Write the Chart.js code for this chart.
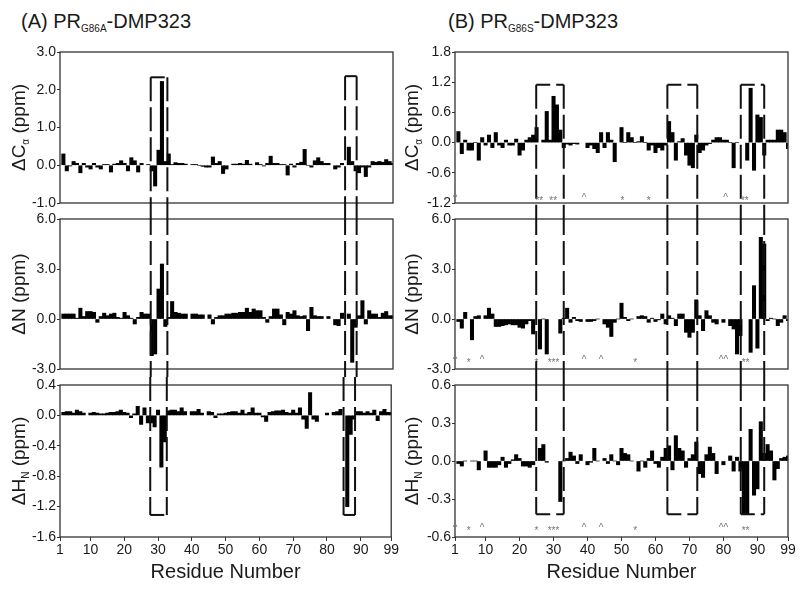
<!DOCTYPE html>
<html>
<head>
<meta charset="utf-8">
<script src="https://cdn.jsdelivr.net/npm/chart.js@4.4.0/dist/chart.umd.min.js"></script>
<style>
body{margin:0;background:#fff;width:800px;height:591px;position:relative;overflow:hidden;font-family:"Liberation Sans",Arial,sans-serif;color:#1a1a1a}
.cell{position:absolute}
.title{position:absolute;top:11px;font-size:20px;line-height:20px;white-space:nowrap}
.title sub{font-size:10px;vertical-align:-4px}
</style>
</head>
<body>
<div class="title" style="left:21px">(A) PR<sub>G86A</sub>-DMP323</div>
<div class="title" style="left:448px">(B) PR<sub>G86S</sub>-DMP323</div>

<div class="cell" style="left:0;top:40px;width:400px;height:171px"><canvas id="a1"></canvas></div>
<div class="cell" style="left:0;top:211px;width:400px;height:166px"><canvas id="a2"></canvas></div>
<div class="cell" style="left:0;top:377px;width:400px;height:214px"><canvas id="a3"></canvas></div>
<div class="cell" style="left:400px;top:40px;width:400px;height:171px"><canvas id="b1"></canvas></div>
<div class="cell" style="left:400px;top:211px;width:400px;height:166px"><canvas id="b2"></canvas></div>
<div class="cell" style="left:400px;top:377px;width:400px;height:214px"><canvas id="b3"></canvas></div>

<script>
// residue numbers 1..99
const residues = Array.from({length: 99}, (_, i) => i + 1);
const xTicks = [1, 10, 20, 30, 40, 50, 60, 70, 80, 90, 99];

// (A) PR G86A - DMP323
const caA = [
  null, 0.30, -0.15, -0.02, 0.10, 0.05, -0.20, 0.05, -0.05, -0.10,
  0.05, -0.05, -0.10, 0.02, 0.02, -0.18, 0.03, 0.05, 0.12, 0.05,
  -0.15, 0.20, 0.12, -0.18, 0.05, null, 0.02, -0.15, -0.55, 0.40,
  2.22, 0.10, 0.30, 0.02, 0.07, 0.05, 0.05, 0.03, null, 0.02,
  0.02, 0.00, -0.03, -0.05, -0.05, 0.22, 0.05, 0.10, -0.22, -0.10,
  null, 0.03, 0.03, 0.05, 0.03, 0.13, 0.03, null, 0.07, 0.02,
  -0.02, 0.05, 0.24, 0.05, 0.05, 0.02, 0.02, -0.26, 0.03, -0.05,
  0.05, 0.08, 0.42, 0.00, -0.05, 0.12, 0.20, 0.10, 0.05, 0.05,
  null, -0.10, -0.05, 0.05, null, 0.48, 0.10, -0.15, -0.20, -0.05,
  -0.30, -0.05, 0.10, 0.08, 0.10, 0.08, 0.15, 0.10, 0.05
];
const nA = [
  null, 0.30, 0.30, 0.30, 0.30, 0.05, 0.65, 0.15, 0.45, 0.45,
  0.40, -0.20, 0.15, 0.35, 0.20, 0.30, 0.35, 0.10, 0.05, 0.40,
  0.20, 0.05, -0.30, 0.10, 0.40, 0.30, 0.30, -2.20, -2.10, 1.80,
  3.30, -0.45, 0.10, 1.05, 0.40, 0.35, 0.30, 0.30, null, 0.30,
  0.30, 0.25, 0.25, null, 0.25, -0.30, 0.10, 0.20, 0.20, 0.30,
  0.30, 0.35, 0.35, 0.40, 0.40, 0.65, 0.40, 0.60, 0.50, 0.50,
  0.10, -0.20, 0.15, 0.60, 0.60, 0.25, -0.35, 0.40, 0.30, 0.50,
  0.20, 0.15, 0.20, -0.70, 0.70, 0.20, 0.15, 0.15, null, 0.15,
  null, -0.35, -0.40, 0.35, null, 0.30, -2.60, -0.50, 0.20, 1.10,
  -0.30, 0.50, 0.30, 0.30, 0.10, 0.35, 0.45, 0.20, 0.20
];
const hnA = [
  null, 0.04, 0.05, 0.05, 0.03, 0.07, 0.05, 0.03, null, 0.03,
  0.04, 0.03, 0.02, 0.02, 0.03, 0.04, 0.04, 0.05, 0.07, 0.04,
  0.03, -0.03, 0.02, 0.12, -0.12, 0.10, -0.10, -0.10, -0.15, 0.07,
  -0.68, -0.35, 0.06, 0.07, 0.07, 0.05, 0.10, 0.05, null, 0.05,
  0.05, 0.08, 0.03, null, 0.05, 0.04, -0.03, 0.02, 0.02, 0.03,
  0.04, 0.05, 0.05, 0.03, 0.07, 0.02, 0.04, 0.10, 0.03, 0.03,
  -0.02, -0.08, 0.04, 0.05, 0.06, 0.06, 0.07, 0.04, 0.03, 0.07,
  0.03, 0.10, -0.05, -0.17, 0.30, -0.05, -0.08, null, null, 0.03,
  null, 0.04, 0.05, 0.08, null, -1.20, -0.25, -0.05, 0.05, 0.05,
  0.03, 0.05, 0.03, 0.07, -0.07, 0.05, 0.08, 0.04, 0.04
];

// (B) PR G86S - DMP323
const caB = [
  null, 0.22, -0.22, 0.05, -0.15, -0.15, 0.00, -0.35, 0.10, -0.05,
  0.15, -0.10, 0.20, -0.05, -0.10, 0.05, -0.05, -0.05, 0.07, -0.25,
  -0.15, 0.05, 0.10, 0.15, 0.30, null, 0.05, 0.62, 0.05, 0.92,
  0.75, 0.25, -0.10, -0.03, -0.05, -0.02, -0.03, null, null, -0.10,
  -0.05, -0.12, -0.20, 0.20, -0.10, 0.20, 0.05, -0.38, null, 0.30,
  0.00, 0.20, 0.10, 0.00, 0.02, 0.12, 0.00, -0.15, -0.05, -0.20,
  -0.10, -0.15, -0.05, 0.42, 0.20, -0.35, 0.02, 0.08, -0.25, -0.45,
  -0.50, 0.15, -0.20, -0.15, -0.05, -0.02, 0.05, 0.10, 0.10, 0.05,
  0.05, 0.00, -0.50, 0.00, null, null, -0.35, 1.08, -0.55, 0.55,
  0.50, -0.25, 0.05, 0.05, 0.05, 0.25, 0.25, 0.20, -0.12
];
const nB = [
  null, -0.15, -0.55, 0.40, null, -1.25, 0.15, 0.20, null, 0.20,
  0.65, 0.30, -0.45, -0.45, -0.40, -0.35, -0.30, -0.35, -0.35, -0.50,
  -0.55, -0.30, -0.10, -0.90, null, -1.80, 0.00, -2.10, null, null,
  null, -0.85, 0.05, 0.65, -0.20, 0.10, -0.10, -0.15, null, -0.15,
  -0.15, -0.10, 0.00, null, -0.30, -0.50, -1.05, -0.20, 0.00, 0.95,
  0.10, -0.10, 0.00, null, 0.15, 0.20, 0.15, -0.20, 0.05, -0.15,
  -0.05, 0.30, -0.30, 0.20, 0.05, -0.40, 0.30, 0.30, -0.80, -1.10,
  -0.80, 1.15, 0.20, -0.70, 0.50, 0.20, -0.20, -0.30, null, -0.20,
  null, -0.40, -0.60, -2.10, -1.00, null, null, -2.00, 2.00, -1.75,
  4.90, 4.50, -0.10, 0.05, 0.00, -0.40, -0.20, 0.20, -0.10
];
const hnB = [
  null, -0.02, -0.04, 0.00, null, 0.00, 0.00, -0.07, null, 0.08,
  -0.05, -0.05, -0.05, -0.03, 0.03, -0.05, -0.02, 0.01, 0.05, 0.02,
  -0.04, -0.04, -0.05, -0.03, null, 0.10, 0.13, -0.01, null, null,
  null, -0.32, 0.00, 0.02, 0.07, 0.04, -0.02, 0.05, null, -0.03,
  -0.01, 0.10, 0.00, null, 0.02, -0.02, 0.05, 0.00, -0.03, 0.10,
  0.06, 0.05, 0.00, null, -0.08, 0.00, -0.05, 0.02, 0.08, -0.02,
  -0.05, 0.03, 0.10, 0.12, -0.07, 0.20, 0.10, 0.08, -0.05, 0.02,
  0.05, 0.15, -0.10, -0.13, 0.05, 0.11, 0.06, -0.10, null, -0.03,
  null, 0.04, -0.08, 0.03, -0.08, -0.42, -0.42, 0.25, -0.27, -0.22,
  0.31, 0.06, 0.13, 0.08, -0.15, -0.06, 0.02, 0.03, 0.04
];

// y tick labels
const yTicksCaA = [-1.0, 0.0, 1.0, 2.0, 3.0];
const yTicksNA = [-3.0, 0.0, 3.0, 6.0];
const yTicksHnA = [-1.6, -1.2, -0.8, -0.4, 0.0, 0.4];
const yTicksCaB = [-1.2, -0.6, 0.0, 0.6, 1.2, 1.8];
const yTicksNB = [-3.0, 0.0, 3.0, 6.0];
const yTicksHnB = [-0.6, -0.3, 0.0, 0.3, 0.6];

// dashed boxes (residue range, top value in upper panel, bottom value in lower panel)
const boxFromA = [27.7, 84.9];
const boxToA = [32.6, 88.3];
const boxTopA = [2.33, 2.36];
const boxBottomA = [-1.31, -1.31];
const boxFromB = [24.9, 63.5, 85.1];
const boxToB = [33.0, 72.3, 92.0];
const boxTopB = [1.15, 1.15, 1.15];
const boxBottomB = [-0.42, -0.42, -0.42];

// small markers along the bottom of the (B) panels
const markResTopB = [1, 25.8, 29.9, 39, 50.3, 58, 80.6, 86.3];
const markSymTopB = ['^', '**', '**', '^', '*', '*', '^', '**'];
const markResLowB = [1, 5, 9, 25, 30, 39, 44, 54, 80, 86.5];
const markSymLowB = ['^', '*', '^', '*', '***', '^', '^', '*', '^^', '**'];

Chart.defaults.font.family = '"Liberation Sans", Arial, sans-serif';
Chart.defaults.color = '#1a1a1a';

function panelPlugin(cfg) {
  return {
    id: 'panel',
    afterDatasetsDraw(chart) {
      const {ctx, chartArea: a} = chart;
      const xs = chart.scales.x, ys = chart.scales.y;
      ctx.save();
      ctx.strokeStyle = '#333';
      ctx.lineWidth = 1.3;
      ctx.strokeRect(a.left, a.top, a.right - a.left, a.bottom - a.top);

      ctx.strokeStyle = '#111';
      ctx.lineWidth = 2;
      ctx.setLineDash([24, 6]);
      cfg.from.forEach((f, i) => {
        const x0 = xs.getPixelForValue(f), x1 = xs.getPixelForValue(cfg.to[i]);
        let yTop = 0, yBot = chart.height;
        if (cfg.row === 'top') yTop = ys.getPixelForValue(cfg.top[i]);
        if (cfg.row === 'bottom') yBot = ys.getPixelForValue(cfg.bottom[i]);
        ctx.beginPath();
        ctx.moveTo(x0, yTop); ctx.lineTo(x0, yBot);
        ctx.moveTo(x1, yTop); ctx.lineTo(x1, yBot);
        ctx.stroke();
        // short horizontal caps, dashed with shorter segments
        ctx.save();
        ctx.setLineDash([14, 6]);
        ctx.beginPath();
        if (cfg.row === 'top') { ctx.moveTo(x0, yTop); ctx.lineTo(x1, yTop); }
        if (cfg.row === 'bottom') { ctx.moveTo(x0, yBot); ctx.lineTo(x1, yBot); }
        ctx.stroke();
        ctx.restore();
      });
      ctx.setLineDash([]);

      if (cfg.markRes) {
        ctx.font = '10px "Liberation Sans"';
        ctx.fillStyle = '#777';
        ctx.textAlign = 'center';
        ctx.textBaseline = 'middle';
        cfg.markRes.forEach((r, i) => {
          const s = cfg.markSym[i];
          const dy = s[0] === '*' ? 3 : 0;
          ctx.fillText(s, xs.getPixelForValue(r), ys.getPixelForValue(cfg.markY) + dy);
        });
      }

      // rotated y-axis title with subscript
      const cy = (a.top + a.bottom) / 2;
      ctx.translate(cfg.titleX, cy);
      ctx.rotate(-Math.PI / 2);
      ctx.fillStyle = '#1a1a1a';
      ctx.textAlign = 'left';
      ctx.textBaseline = 'middle';
      const big = '19px "Liberation Sans"', small = '10px "Liberation Sans"';
      let w = 0;
      cfg.yTitle.forEach(p => { ctx.font = p.sub ? small : big; w += ctx.measureText(p.t).width; });
      let x = -w / 2;
      cfg.yTitle.forEach(p => {
        ctx.font = p.sub ? small : big;
        ctx.fillText(p.t, x, p.sub ? 6 : 0);
        x += ctx.measureText(p.t).width;
      });
      ctx.restore();
    }
  };
}

function makePanel(id, col, row, values, yTicks, yTitle, marks) {
  const pad = row === 'top' ? [12, 8] : row === 'middle' ? [8, 7] : [7, 0];
  const isBottom = row === 'bottom';
  return new Chart(document.getElementById(id), {
    type: 'bar',
    data: {
      datasets: [{
        data: residues.map((r, i) => ({x: r, y: values[i]})),
        backgroundColor: '#000',
        borderWidth: 0,
        barPercentage: 1,
        categoryPercentage: 1,
        clip: 0
      }]
    },
    options: {
      responsive: true,
      maintainAspectRatio: false,
      animation: false,
      layout: {padding: {left: 0, right: col.padRight, top: pad[0], bottom: pad[1]}},
      plugins: {legend: {display: false}, tooltip: {enabled: false}},
      scales: {
        x: {
          type: 'linear',
          min: 1,
          max: 99,
          offset: false,
          display: isBottom,
          grid: {offset: false, drawOnChartArea: false, tickLength: 4, color: '#333'},
          border: {display: false},
          afterBuildTicks: s => { s.ticks = xTicks.map(v => ({value: v})); },
          afterFit: s => { s.height = isBottom ? 54 : 0; },
          ticks: {font: {size: 14}, padding: 1, maxRotation: 0, autoSkip: false, callback: v => String(v)},
          title: {display: true, text: 'Residue Number', font: {size: 20}, padding: {top: 0, bottom: 7}}
        },
        y: {
          min: yTicks[0],
          max: yTicks[yTicks.length - 1],
          grid: {drawOnChartArea: false, tickLength: 3, color: '#333'},
          border: {display: false},
          afterBuildTicks: s => { s.ticks = yTicks.map(v => ({value: v})); },
          afterFit: s => { s.width = col.yWidth; },
          ticks: {font: {size: 14, lineHeight: 1}, padding: 1, callback: v => v.toFixed(1)}
        }
      }
    },
    plugins: [panelPlugin(Object.assign({row, yTitle, titleX: col.titleX}, col.boxes, marks || {}))]
  });
}

const colA = {yWidth: 60, padRight: 7, titleX: 20,
  boxes: {from: boxFromA, to: boxToA, top: boxTopA, bottom: boxBottomA}};
const colB = {yWidth: 55, padRight: 12, titleX: 13,
  boxes: {from: boxFromB, to: boxToB, top: boxTopB, bottom: boxBottomB}};

const titleCa = [{t: '\u0394C'}, {t: '\u03b1', sub: true}, {t: ' (ppm)'}];
const titleN = [{t: '\u0394N (ppm)'}];
const titleHn = [{t: '\u0394H'}, {t: 'N', sub: true}, {t: ' (ppm)'}];

makePanel('a1', colA, 'top', caA, yTicksCaA, titleCa);
makePanel('a2', colA, 'middle', nA, yTicksNA, titleN);
makePanel('a3', colA, 'bottom', hnA, yTicksHnA, titleHn);
makePanel('b1', colB, 'top', caB, yTicksCaB, titleCa, {markRes: markResTopB, markSym: markSymTopB, markY: -1.1});
makePanel('b2', colB, 'middle', nB, yTicksNB, titleN, {markRes: markResLowB, markSym: markSymLowB, markY: -2.45});
makePanel('b3', colB, 'bottom', hnB, yTicksHnB, titleHn, {markRes: markResLowB, markSym: markSymLowB, markY: -0.53});
</script>
</body>
</html>
